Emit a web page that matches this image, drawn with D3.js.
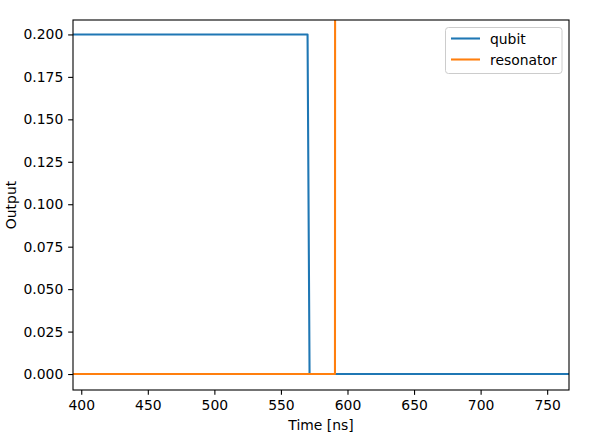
<!DOCTYPE html>
<html><head><meta charset="utf-8">
<script src="https://cdn.jsdelivr.net/npm/d3@7"></script>
<style>body{margin:0;background:#fff}svg{display:block}text{font-family:"DejaVu Sans",sans-serif}</style>
</head><body>
<script>
const seriesNames = ["qubit", "resonator"];
const qubitTime = [0, 570, 571.5, 1000];
const qubitValue = [0.2, 0.2, 0, 0];
const resonatorTime = [0, 590.6, 591.0, 1000];
const resonatorValue = [0, 0, 1, 1];
const xTicks = [400, 450, 500, 550, 600, 650, 700, 750];
const yTicks = [0, 0.025, 0.05, 0.075, 0.1, 0.125, 0.15, 0.175, 0.2];
const colors = ["#1f77b4", "#ff7f0e"];

const W = 609, H = 442;
const L = 73, R = 569, T = 20, B = 390;
const svg = d3.select("body").append("svg").attr("width", W).attr("height", H);
const x = d3.scaleLinear().domain([393.8, 766.4]).range([L, R]);
const y = d3.scaleLinear().domain([-0.0094, 0.2085]).range([B, T]);

svg.append("clipPath").attr("id", "clip").append("rect")
  .attr("x", L).attr("y", T).attr("width", R - L).attr("height", B - T);

const line = d3.line().x(d => x(d[0])).y(d => y(d[1]));
const series = [
  d3.zip(qubitTime, qubitValue),
  d3.zip(resonatorTime, resonatorValue)
];
const g = svg.append("g").attr("clip-path", "url(#clip)");
series.forEach((s, i) => {
  g.append("path").attr("d", line(s)).attr("fill", "none")
    .attr("stroke", colors[i]).attr("stroke-width", 2.08)
    .attr("stroke-linejoin", "round").attr("stroke-linecap", "square");
});

const xAxis = d3.axisBottom(x).tickValues(xTicks).tickSize(4.86).tickPadding(4.9).tickFormat(d3.format("d"));
const yAxis = d3.axisLeft(y).tickValues(yTicks).tickSize(4.86).tickPadding(4.9).tickFormat(d3.format(".3f"));
const gx = svg.append("g").attr("transform", `translate(0,${B})`).call(xAxis);
const gy = svg.append("g").attr("transform", `translate(${L},0)`).call(yAxis);
[gx, gy].forEach(a => {
  a.select(".domain").remove();
  a.selectAll("line").attr("stroke", "#000").attr("stroke-width", 1.1);
  a.selectAll("text").attr("fill", "#000").style("font-size", "13.9px").style("font-family", "DejaVu Sans");
});

svg.append("rect").attr("x", L).attr("y", T).attr("width", R - L).attr("height", B - T)
  .attr("fill", "none").attr("stroke", "#000").attr("stroke-width", 1.1);

svg.append("text").attr("x", (L + R) / 2).attr("y", 430).attr("text-anchor", "middle")
  .style("font-size", "13.9px").text("Time [ns]");
svg.append("text").attr("transform", `translate(16,${(T + B) / 2}) rotate(-90)`).attr("text-anchor", "middle")
  .style("font-size", "13.9px").text("Output");

const lg = svg.append("g");
lg.append("rect").attr("x", 445.5).attr("y", 27.5).attr("width", 116.5).attr("height", 46).attr("rx", 3)
  .attr("fill", "#fff").attr("fill-opacity", 0.8).attr("stroke", "#ccc").attr("stroke-width", 1);
seriesNames.forEach((n, i) => {
  const yy = 38.5 + i * 21;
  lg.append("line").attr("x1", 451).attr("x2", 480).attr("y1", yy).attr("y2", yy)
    .attr("stroke", colors[i]).attr("stroke-width", 2.08);
  lg.append("text").attr("x", 490).attr("y", yy + 5).style("font-size", "13.9px").text(n);
});
</script>
</body></html>
